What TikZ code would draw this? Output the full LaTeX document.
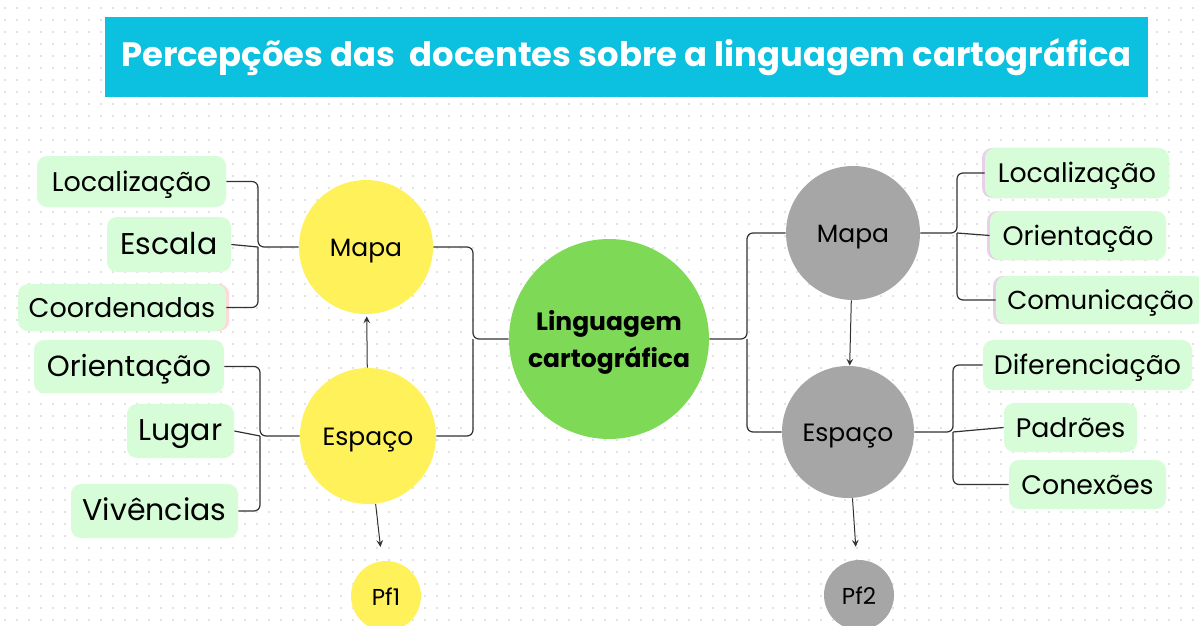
\documentclass[tikz,border=0pt]{standalone}
\usepackage{fontspec}
\setmainfont{Poppins}
\usetikzlibrary{positioning, calc, shadows}

\definecolor{titlecyan}{RGB}{12,192,223}
\definecolor{mapyellow}{RGB}{255,241,90}
\definecolor{centergreen}{RGB}{126,217,87}
\definecolor{mapgray}{RGB}{166,166,166}
\definecolor{leafgreen}{RGB}{215,253,216}
\definecolor{linkgray}{RGB}{50,50,50}

\begin{document}
\begin{tikzpicture}[x=0.5pt, y=-0.5pt,
  dotgrid/.style={gray!22, line width=1pt, dash pattern=on 1pt off 5pt},
  leaf/.style={fill=leafgreen, rounded corners=5pt, inner sep=0pt, text height=1.1em, text depth=0.14em,
    font=\fontsize{13.5}{15}\selectfont},
  leafbig/.style={leaf, font=\fontsize{15}{17}\selectfont},
  leafright/.style={leaf, font=\fontsize{13.4}{15}\selectfont},
  lilac/.style={drop shadow={shadow xshift=-1.5pt, shadow yshift=0pt, fill=violet!18, opacity=1}},
  pinkish/.style={drop shadow={shadow xshift=1.5pt, shadow yshift=0pt, fill=red!15, opacity=1}},
  topic/.style={circle, inner sep=0pt, text height=1.05em, text depth=0.14em, font=\fontsize{12.5}{14}\selectfont},
  link/.style={linkgray, line width=0.6pt, rounded corners=3pt},
  arr/.style={linkgray, line width=0.5pt, -stealth}]
\useasboundingbox (0,0) rectangle (1199,626);
\fill[white] (0,0) rectangle (1199,626);
% background dots
\foreach \y in {8,20,...,620}
  \draw[dotgrid] (4,\y) -- (1199,\y);

% title
\node[fill=titlecyan, minimum width=521.5pt, minimum height=40pt, text=white, text height=1.05em, text depth=0.14em,
  font=\fontsize{16.9}{19}\bfseries] (title) at (626.5,57) {Percepções das\ \ docentes sobre a linguagem cartográfica};

% central node
\node[circle, inner sep=0pt, fill=centergreen, minimum size=100pt, align=center,
  font=\fontsize{12.5}{18.5}\bfseries] (ling) at (609,339) {\\[-5pt]Linguagem\\cartográfica};

% left side
\node[topic, fill=mapyellow, minimum size=67pt] (lmapa) at (366,247) {Mapa};
\node[topic, fill=mapyellow, minimum size=68pt] (lesp) at (368,436) {Espaço};
\node[topic, fill=mapyellow, minimum size=35pt, font=\fontsize{11.5}{13}\selectfont] (pf1) at (386,596) {Pf1};

\node[leaf, minimum width=94.5pt, minimum height=25.5pt] (lloc) at (131.5,181.5) {Localização};
\node[leafbig, minimum width=62pt, minimum height=27.5pt] (lesc) at (169,244.5) {Escala};
\node[leaf, pinkish, minimum width=104pt, minimum height=23.5pt] (lcoo) at (122,307.5) {Coordenadas};
\node[leaf, minimum width=95pt, minimum height=26.5pt, font=\fontsize{14.6}{16}\selectfont] (lori) at (129,366.5) {Orientação};
\node[leafbig, minimum width=53.5pt, minimum height=27pt] (llug) at (180.5,431) {Lugar};
\node[leafbig, minimum width=83.5pt, minimum height=27pt] (lviv) at (154.5,511) {Vivências};

% right side
\node[topic, fill=mapgray, minimum size=67pt] (rmapa) at (853,233) {Mapa};
\node[topic, fill=mapgray, minimum size=66pt] (resp) at (848,432) {Espaço};
\node[topic, fill=mapgray, minimum size=35pt, font=\fontsize{11.5}{13}\selectfont] (pf2) at (859,595) {Pf2};

\node[leafright, lilac, minimum width=92pt, minimum height=25pt] (rloc) at (1077,173) {Localização};
\node[leafright, lilac, minimum width=88pt, minimum height=24.5pt] (rori) at (1078,235.5) {Orientação};
\node[leafright, lilac, minimum width=104.5pt, minimum height=24pt, font=\fontsize{13}{15}\selectfont] (rcom) at (1100.5,300) {Comunicação};
\node[leafright, minimum width=104.5pt, minimum height=25pt] (rdif) at (1087.5,365) {Diferenciação};
\node[leafright, minimum width=66.5pt, minimum height=24.5pt] (rpad) at (1070.5,427.5) {Padrões};
\node[leafright, minimum width=78.5pt, minimum height=24.5pt] (rcon) at (1087.5,484.5) {Conexões};

% junctions
\coordinate (jlm) at (258,247);
\coordinate (jle) at (260,436);
\coordinate (jcl) at (473,339);
\coordinate (jcr) at (747,339);
\coordinate (jrm) at (957,233);
\coordinate (jre) at (953,432);

% links
\draw[link] (ling.west) -- (jcl) |- (lmapa.east);
\draw[link] (jcl) |- (lesp.east);
\draw[link] (ling.east) -- (jcr) |- (rmapa.west);
\draw[link] (jcr) |- (resp.west);

\draw[link] (lloc.east) -| (jlm) -- (lmapa.west);
\draw[link] (lesc.east) -- (jlm);
\draw[link] (lcoo.east) -| (jlm);
\draw[link] (lori.east) -| (jle) -- (lesp.west);
\draw[link] (llug.east) -- (jle);
\draw[link] (lviv.east) -| (jle);

\draw[link] (rmapa.east) -- (jrm) |- (rloc.west);
\draw[link] (jrm) -- (rori.west);
\draw[link] (jrm) |- (rcom.west);
\draw[link] (resp.east) -- (jre) |- (rdif.west);
\draw[link] (jre) -- (rpad.west);
\draw[link] (jre) |- (rcon.west);

% arrows
\draw[arr, shorten >=1pt] (lesp) -- (lmapa);
\draw[arr, shorten >=7pt] (lesp) -- (pf1);
\draw[arr] (rmapa) -- (resp);
\draw[arr, shorten >=6.5pt] (resp) -- (pf2);
\end{tikzpicture}
\end{document}
